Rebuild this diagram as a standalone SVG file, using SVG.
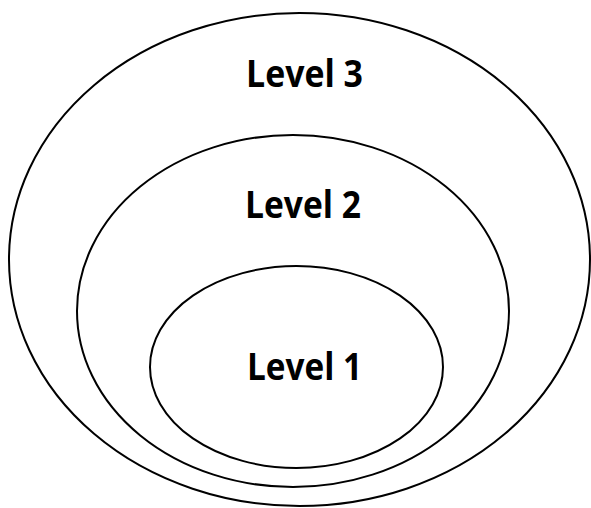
<svg xmlns="http://www.w3.org/2000/svg" width="591" height="508" viewBox="0 0 591 508">
  <style>
    .ring { fill: none; stroke: #000; stroke-width: 2; }
    .label { font-family: "Open Sans", "Liberation Sans", sans-serif; font-weight: bold; font-size: 38px; fill: #000; text-anchor: middle; }
  </style>
  <rect width="591" height="508" fill="#fff"/>
  <g id="level3">
    <ellipse class="ring" cx="299.5" cy="259.5" rx="290.5" ry="246.5"/>
    <text class="label" x="304.5" y="87" textLength="117" lengthAdjust="spacingAndGlyphs">Level 3</text>
  </g>
  <g id="level2">
    <ellipse class="ring" cx="293" cy="311" rx="216" ry="176"/>
    <text class="label" x="303" y="218" textLength="116" lengthAdjust="spacingAndGlyphs">Level 2</text>
  </g>
  <g id="level1">
    <ellipse class="ring" cx="296.5" cy="367" rx="146.5" ry="101"/>
    <text class="label" x="304.5" y="380" textLength="115" lengthAdjust="spacingAndGlyphs">Level 1</text>
  </g>
  <g id="connectors"/>
</svg>
